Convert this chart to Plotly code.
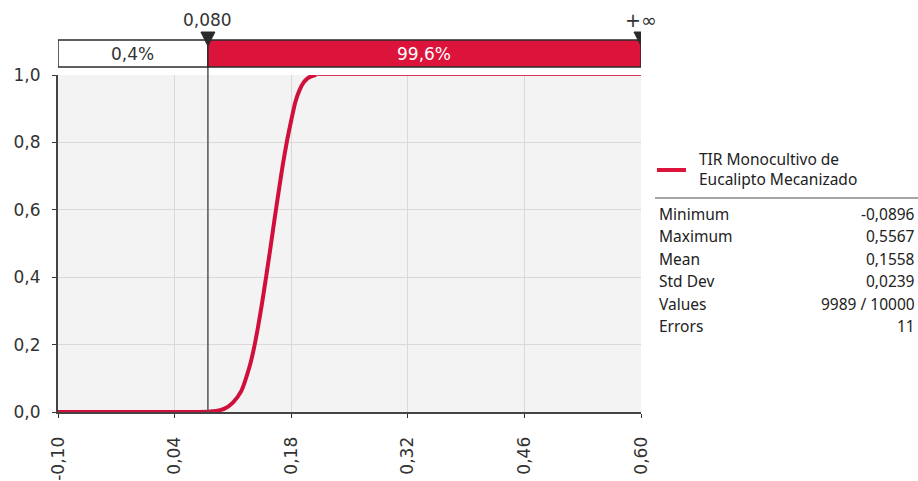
import plotly.graph_objects as go

# Cumulative distribution of the IRR (TIR) simulation results
tir_x = [-0.100, 0.080, 0.090, 0.100, 0.110, 0.120, 0.130, 0.135, 0.140, 0.145,
         0.150, 0.155, 0.160, 0.165, 0.170, 0.175, 0.180, 0.185, 0.190, 0.195,
         0.200, 0.205, 0.210, 0.600]
tir_cdf = [0.000, 0.001, 0.003, 0.010, 0.028, 0.062, 0.135, 0.186, 0.250, 0.323,
           0.403, 0.486, 0.572, 0.655, 0.735, 0.805, 0.865, 0.920, 0.955, 0.978,
           0.991, 0.997, 1.000, 1.000]

x_ticks = [-0.10, 0.04, 0.18, 0.32, 0.46, 0.60]
x_tick_text = ["-0,10", "0,04", "0,18", "0,32", "0,46", "0,60"]
y_ticks = [0.0, 0.2, 0.4, 0.6, 0.8, 1.0]
y_tick_text = ["0,0", "0,2", "0,4", "0,6", "0,8", "1,0"]

# Delimiter and band probabilities
cut_value = 0.080
cut_label = "0,080"
upper_label = "+∞"
band_labels = ["0,4%", "99,6%"]

series_name = "TIR Monocultivo de<br>Eucalipto Mecanizado"
stat_names = ["Minimum", "Maximum", "Mean", "Std Dev", "Values", "Errors"]
stat_values = ["-0,0896", "0,5567", "0,1558", "0,0239", "9989 / 10000", "11"]

RED = "#dc143c"
CURVE = "#d0103a"
DARK = "#2b2b2b"
TXT = "#333333"
TICK_FONT = dict(family="DejaVu Sans", size=17, color=TXT)
SIDE_FONT = dict(family="Noto Sans", size=15.5, color="#222222")

W, H = 918, 481
ML, MR, MT, MB = 58, 277, 75, 69
PW, PH = W - ML - MR, H - MT - MB


def px(p):
    return (p - ML) / PW


def py(q):
    return 1 - (q - MT) / PH


x_min, x_max = x_ticks[0], x_ticks[-1]

# split the curve: rising part and the flat tail at 1.0
n_rise = len(tir_x) - 1

fig = go.Figure()
fig.add_trace(go.Scatter(
    x=tir_x[:n_rise], y=tir_cdf[:n_rise], mode="lines",
    line=dict(color=CURVE, width=4, shape="spline", smoothing=0.6),
    hoverinfo="skip", showlegend=False, cliponaxis=False))
fig.add_trace(go.Scatter(
    x=tir_x[n_rise - 1:], y=tir_cdf[n_rise - 1:], mode="lines",
    line=dict(color="#d93a5c", width=2),
    hoverinfo="skip", showlegend=False, cliponaxis=False))

shapes = []
# delimiter line through the plot
shapes.append(dict(type="line", xref="x", yref="paper", x0=cut_value, x1=cut_value,
                   y0=0, y1=py(40), line=dict(color="#555555", width=1.5)))
# probability band above the plot
bar_y0, bar_y1 = py(67), py(40)
shapes.append(dict(type="rect", xref="x", yref="paper", x0=x_min, x1=cut_value,
                   y0=bar_y0, y1=bar_y1, fillcolor="white",
                   line=dict(color=DARK, width=1.5)))
shapes.append(dict(type="rect", xref="x", yref="paper", x0=cut_value, x1=x_max,
                   y0=bar_y0, y1=bar_y1, fillcolor=RED,
                   line=dict(color=DARK, width=1.5)))
# delimiter handles (downward triangles)
half_w = 7 / PW * (x_max - x_min)
for xv in (cut_value, x_max):
    shapes.append(dict(
        type="path", xref="x", yref="paper",
        path=f"M {xv - half_w},{py(32)} L {xv + half_w},{py(32)} L {xv},{py(46)} Z",
        fillcolor=DARK, line=dict(color=DARK, width=1)))
# legend swatch and separator
shapes.append(dict(type="line", xref="paper", yref="paper", x0=px(657), x1=px(686),
                   y0=py(170), y1=py(170), line=dict(color=RED, width=4)))
shapes.append(dict(type="line", xref="paper", yref="paper", x0=px(655), x1=px(918),
                   y0=py(198), y1=py(198), line=dict(color="#888888", width=1.5)))

annotations = []
annotations.append(dict(text=cut_label, x=cut_value, xref="x", y=py(20), yref="paper",
                        showarrow=False, font=TICK_FONT, xanchor="center", yanchor="middle"))
annotations.append(dict(text=upper_label, x=x_max, xref="x", y=py(20), yref="paper",
                        showarrow=False, font=dict(family="DejaVu Sans", size=19, color=TXT),
                        xanchor="center", yanchor="middle"))
annotations.append(dict(text=band_labels[0], x=(x_min + cut_value) / 2, xref="x",
                        y=py(54), yref="paper", showarrow=False, font=TICK_FONT,
                        xanchor="center", yanchor="middle"))
annotations.append(dict(text=band_labels[1], x=(cut_value + x_max) / 2, xref="x",
                        y=py(54), yref="paper", showarrow=False,
                        font=dict(family="DejaVu Sans", size=17, color="white"),
                        xanchor="center", yanchor="middle"))
annotations.append(dict(text=series_name, x=px(697), xref="paper", y=py(169), yref="paper",
                        showarrow=False, font=SIDE_FONT, xanchor="left", yanchor="middle",
                        align="left"))
for i, (name, val) in enumerate(zip(stat_names, stat_values)):
    yy = py(214 + 22.4 * i)
    annotations.append(dict(text=name, x=px(657), xref="paper", y=yy, yref="paper",
                            showarrow=False, font=SIDE_FONT, xanchor="left", yanchor="middle"))
    annotations.append(dict(text=val, x=px(917), xref="paper", y=yy, yref="paper",
                            showarrow=False, font=SIDE_FONT, xanchor="right", yanchor="middle"))

fig.update_layout(
    width=W, height=H,
    margin=dict(l=ML, r=MR, t=MT, b=MB),
    paper_bgcolor="white", plot_bgcolor="#f3f3f3",
    shapes=shapes, annotations=annotations,
    showlegend=False,
    xaxis=dict(range=[x_min, x_max], tickvals=x_ticks, ticktext=x_tick_text,
               tickangle=-90, ticks="outside", ticklen=4, tickcolor="#333333",
               showline=True, linecolor="#444444", linewidth=2,
               showgrid=True, gridcolor="#d9d9d9", gridwidth=1, zeroline=False,
               tickfont=TICK_FONT, ticklabelstandoff=12, automargin=False),
    yaxis=dict(range=[0, 1], tickvals=y_ticks, ticktext=y_tick_text,
               ticks="outside", ticklen=4, tickcolor="#333333",
               showline=True, linecolor="#444444", linewidth=2,
               showgrid=True, gridcolor="#d9d9d9", gridwidth=1, zeroline=False,
               tickfont=TICK_FONT, ticklabelstandoff=8, automargin=False),
)

fig.write_html("out.html")
